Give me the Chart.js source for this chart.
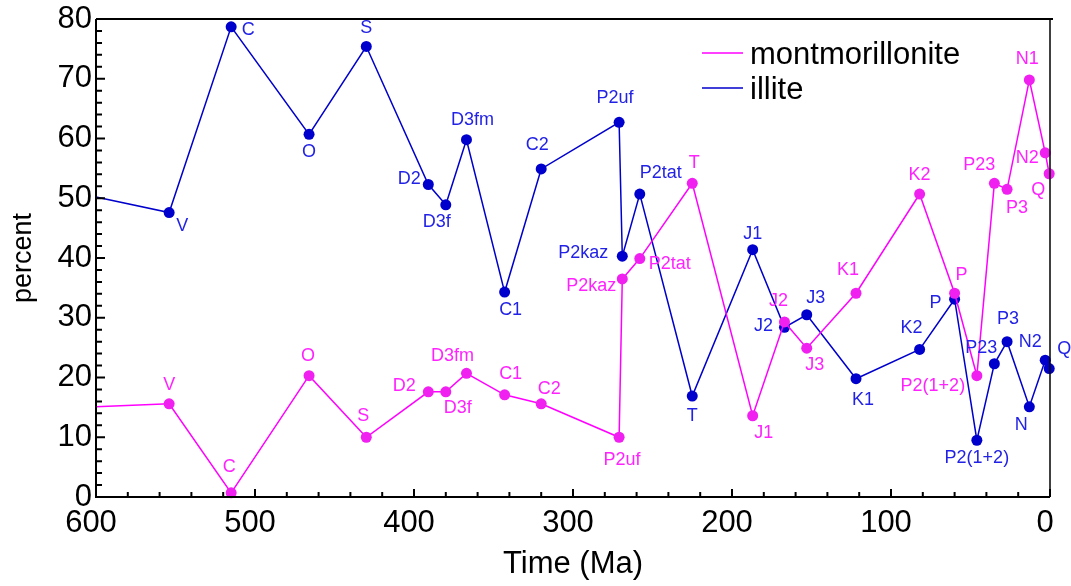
<!DOCTYPE html>
<html>
<head>
<meta charset="utf-8">
<script src="https://cdn.jsdelivr.net/npm/chart.js@4"></script>
<style>
  html, body { margin: 0; padding: 0; background: #fff; }
  canvas { display: block; }
</style>
</head>
<body>
<canvas id="clayChart" width="1071" height="586"></canvas>
<script>
// ages (Ma) shared by both series
const ages = [600, 554, 515, 466, 430, 391, 380, 367, 343, 320, 271, 269, 258, 225, 187, 167, 153, 122, 82, 60, 46, 35, 27, 13, 3, 0.5];

const montLabels = ['', 'V', 'C', 'O', 'S', 'D2', 'D3f', 'D3fm', 'C1', 'C2', 'P2uf', 'P2kaz', 'P2tat', 'T', 'J1', 'J2', 'J3', 'K1', 'K2', 'P', 'P2(1+2)', 'P23', 'P3', 'N1', 'N2', 'Q'];
const montValues = [15.1, 15.6, 0.7, 20.3, 10.0, 17.6, 17.6, 20.7, 17.1, 15.6, 10.0, 36.5, 39.9, 52.5, 13.6, 29.3, 24.9, 34.1, 50.7, 34.1, 20.3, 52.5, 51.5, 69.8, 57.6, 54.1];

const illiteLabels = ['', 'V', 'C', 'O', 'S', 'D2', 'D3f', 'D3fm', 'C1', 'C2', 'P2uf', 'P2kaz', 'P2tat', 'T', 'J1', 'J2', 'J3', 'K1', 'K2', 'P', 'P2(1+2)', 'P23', 'P3', 'N', 'N2', 'Q'];
const illiteValues = [50.2, 47.6, 78.7, 60.7, 75.4, 52.3, 48.9, 59.8, 34.3, 54.9, 62.7, 40.3, 50.7, 16.9, 41.4, 28.4, 30.5, 19.8, 24.7, 33.1, 9.5, 22.3, 26.0, 15.1, 22.9, 21.5];

const xTicks = [600, 500, 400, 300, 200, 100, 0];
const yTicks = [0, 10, 20, 30, 40, 50, 60, 70, 80];

// where each point label sits relative to its marker (px)
const montLabelShift = [[0,0],[0,-19],[-2,-26],[-1,-20],[-3,-21],[-24,-6],[12,16],[-14,-17],[6,-21],[8,-15],[3,23],[-31,7],[30,5],[2,-20],[11,17],[-6,-21],[8,17],[-8,-23],[0,-19],[7,-18],[-44,10],[-15,-18],[10,19],[-2,-21],[-18,5],[-11,16]];
const illiteLabelShift = [[0,0],[13,13],[17,3],[0,18],[0,-18],[-19,-5],[-9,17],[6,-20],[6,18],[-4,-24],[-4,-24],[-39,-3],[21,-21],[0,20],[0,-16],[-21,-1],[9,-17],[7,21],[-8,-21],[-19,4],[0,18],[-13,-16],[1,-23],[-8,18],[-15,-18],[15,-20]];

const MAGENTA = '#ff00ff';
const BLUE = '#0000cc';
const FONT = '"Liberation Sans", Arial, sans-serif';

function toPoints(values) {
    return values.map((v, i) => ({ x: ages[i], y: v }));
}

// text labels next to each marker
const pointLabels = {
    id: 'pointLabels',
    afterDatasetsDraw(chart) {
        const ctx = chart.ctx;
        ctx.save();
        ctx.font = '18px ' + FONT;
        ctx.textAlign = 'center';
        ctx.textBaseline = 'middle';
        chart.data.datasets.forEach((ds, di) => {
            const meta = chart.getDatasetMeta(di);
            meta.data.forEach((pt, i) => {
                const txt = ds.pointNames[i];
                if (!txt) return;
                const s = ds.labelShift[i];
                ctx.fillStyle = ds.labelColor;
                ctx.fillText(txt, pt.x + s[0], pt.y + s[1]);
            });
        });
        ctx.restore();
    }
};

// box around the plot and inward tick marks
const frame = {
    id: 'frame',
    afterDraw(chart) {
        const { ctx, chartArea: a, scales: { x, y } } = chart;
        ctx.save();
        ctx.strokeStyle = '#000';
        ctx.lineWidth = 2;
        ctx.beginPath();
        ctx.moveTo(a.left, a.top);
        ctx.lineTo(a.right + 3, a.top);
        ctx.moveTo(a.left, a.top);
        ctx.lineTo(a.left, a.bottom);
        ctx.lineTo(a.right, a.bottom);
        ctx.stroke();
        ctx.lineWidth = 1.5;
        ctx.beginPath();
        ctx.moveTo(a.right, a.top);
        ctx.lineTo(a.right, a.bottom);
        ctx.stroke();

        ctx.lineWidth = 2;
        ctx.beginPath();
        for (let v = 0; v <= 600; v += 20) {
            const px = x.getPixelForValue(v);
            const len = v % 100 === 0 ? 8 : 5;
            ctx.moveTo(px, a.bottom);
            ctx.lineTo(px, a.bottom - len);
        }
        for (let v = 0; v <= 80; v += 2) {
            const py = y.getPixelForValue(v);
            const len = v % 10 === 0 ? 9 : 6;
            ctx.moveTo(a.left, py);
            ctx.lineTo(a.left + len, py);
        }
        ctx.stroke();
        ctx.restore();
    }
};

// legend inside the plot, top right
const innerLegend = {
    id: 'innerLegend',
    afterDraw(chart) {
        const ctx = chart.ctx;
        ctx.save();
        ctx.font = '31px ' + FONT;
        ctx.textBaseline = 'middle';
        ctx.textAlign = 'left';
        chart.data.datasets.forEach((ds, i) => {
            const yy = 53 + i * 35;
            ctx.strokeStyle = ds.borderColor;
            ctx.lineWidth = 1.5;
            ctx.beginPath();
            ctx.moveTo(702, yy);
            ctx.lineTo(743, yy);
            ctx.stroke();
            ctx.fillStyle = '#000';
            ctx.fillText(ds.label, 750, yy + 2);
        });
        ctx.restore();
    }
};

new Chart(document.getElementById('clayChart'), {
    type: 'line',
    data: {
        datasets: [
            {
                label: 'montmorillonite',
                data: toPoints(montValues),
                pointNames: montLabels,
                labelShift: montLabelShift,
                labelColor: '#ff22ff',
                borderColor: MAGENTA,
                backgroundColor: '#f020f0',
                pointBackgroundColor: '#f020f0',
                borderWidth: 1.5,
                pointRadius: montValues.map((v, i) => i === 0 ? 0 : 5.5),
                pointBorderWidth: 0,
                tension: 0,
                clip: false
            },
            {
                label: 'illite',
                data: toPoints(illiteValues),
                pointNames: illiteLabels,
                labelShift: illiteLabelShift,
                labelColor: '#2222e6',
                borderColor: BLUE,
                backgroundColor: BLUE,
                pointBackgroundColor: BLUE,
                borderWidth: 1.5,
                pointRadius: illiteValues.map((v, i) => i === 0 ? 0 : 5.5),
                pointBorderWidth: 0,
                tension: 0,
                clip: false
            }
        ]
    },
    options: {
        responsive: false,
        animation: false,
        devicePixelRatio: 1,
        layout: { padding: { top: 19, right: 21, left: 0, bottom: 0 } },
        plugins: {
            legend: { display: false },
            tooltip: { enabled: false }
        },
        scales: {
            x: {
                type: 'linear',
                reverse: true,
                min: 0,
                max: 600,
                afterFit: s => { s.height = 89; s.paddingLeft = 0; s.paddingRight = 0; },
                afterBuildTicks: s => { s.ticks = xTicks.map(v => ({ value: v })); },
                grid: { display: false, drawTicks: false },
                border: { display: false },
                ticks: {
                    color: '#000',
                    font: { size: 31, family: FONT },
                    padding: 8,
                    labelOffset: -5,
                    maxRotation: 0
                },
                title: {
                    display: true,
                    text: 'Time (Ma)',
                    color: '#000',
                    font: { size: 31, family: FONT },
                    padding: { top: 0, bottom: 3 }
                }
            },
            y: {
                min: 0,
                max: 80,
                afterFit: s => { s.width = 96; s.paddingTop = 0; s.paddingBottom = 0; },
                afterBuildTicks: s => { s.ticks = yTicks.map(v => ({ value: v })); },
                grid: { display: false, drawTicks: false },
                border: { display: false },
                ticks: {
                    color: '#000',
                    font: { size: 31, family: FONT },
                    padding: 4
                },
                title: {
                    display: true,
                    text: 'percent',
                    color: '#000',
                    font: { size: 27, family: FONT },
                    padding: { top: 7, bottom: 0 }
                }
            }
        }
    },
    plugins: [pointLabels, frame, innerLegend]
});
</script>
</body>
</html>
